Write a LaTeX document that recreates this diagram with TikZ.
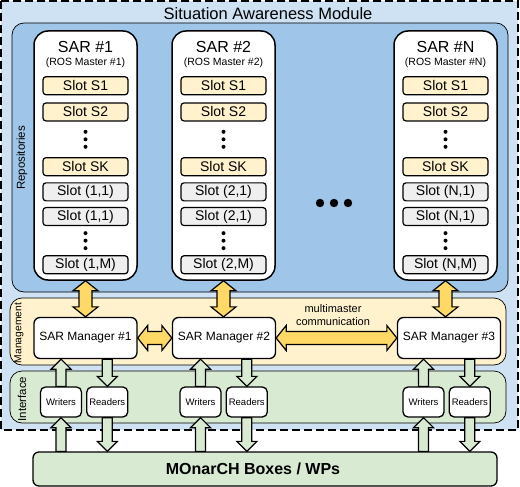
\documentclass[tikz,border=0pt]{standalone}
\usepackage{fontspec}
\setmainfont{Liberation Sans}
\usetikzlibrary{positioning,calc}

\definecolor{moduleblue}{HTML}{CFE2F3}
\definecolor{repoblue}{HTML}{9FC5E8}
\definecolor{mgmtyellow}{HTML}{FFF2CC}
\definecolor{ifacegreen}{HTML}{D9EAD3}
\definecolor{slotgray}{HTML}{EFEFEF}
\definecolor{arrowyellow}{HTML}{FFD966}

% fat double arrow between two points
\newcommand{\dblarrow}[3]{%
  \coordinate (ha) at ($(#2)!10pt!(#3)$);
  \coordinate (hb) at ($(#3)!10pt!(#2)$);
  \draw[#1] (#2) -- ($(ha)!12.5pt!90:(#2)$) -- ($(ha)!6.5pt!90:(#2)$)
    -- ($(hb)!6.5pt!-90:(#3)$) -- ($(hb)!12.5pt!-90:(#3)$) -- (#3)
    -- ($(hb)!12.5pt!90:(#3)$) -- ($(hb)!6.5pt!90:(#3)$)
    -- ($(ha)!6.5pt!-90:(#2)$) -- ($(ha)!12.5pt!-90:(#2)$) -- cycle;}
% fat single arrow, tail -> tip
\newcommand{\onearrow}[3]{%
  \coordinate (hb) at ($(#3)!10pt!(#2)$);
  \draw[#1] ($(#2)!5pt!-90:(#3)$) -- ($(hb)!5pt!-90:(#3)$) -- ($(hb)!10pt!-90:(#3)$)
    -- (#3) -- ($(hb)!10pt!90:(#3)$) -- ($(hb)!5pt!90:(#3)$)
    -- ($(#2)!5pt!90:(#3)$) -- cycle;}
% vertical dots between two slots
\newcommand{\slotdots}[2]{%
  \foreach \d in {-7.5,0,7.5} \fill ($(#1.south)!0.5!(#2.north)+(0,\d)$) circle (2pt);}

\begin{document}
\begin{tikzpicture}[x=1pt, y=-1pt,
  sar/.style={draw, line width=1.5pt, rounded corners=14pt, fill=white, minimum width=103pt, minimum height=249pt},
  slotS/.style={draw, line width=1.2pt, rounded corners=3pt, fill=mgmtyellow, minimum width=85pt, minimum height=18pt, inner sep=0pt, font=\fontsize{14}{16}\selectfont},
  slotG/.style={slotS, fill=slotgray},
  mgr/.style={draw, line width=1.3pt, rounded corners=6pt, fill=white, minimum width=103pt, minimum height=41pt, inner sep=1pt, font=\fontsize{12}{14}\selectfont},
  io/.style={draw, line width=1.3pt, rounded corners=5pt, fill=white, minimum width=41pt, minimum height=30pt, inner sep=0pt, font=\fontsize{9.5}{11}\selectfont},
  panel/.style={draw, line width=0.7pt, rounded corners=12pt},
  yarrow/.style={draw, line width=1.2pt, fill=arrowyellow, line join=miter},
  garrow/.style={draw, line width=1.2pt, fill=ifacegreen, line join=miter}]
  \useasboundingbox (0,0) rectangle (520,487);

  % module and its layers
  \draw[line width=1.8pt, dash pattern=on 8pt off 4pt, fill=moduleblue] (1,1) rectangle (518,430);
  \node[font=\fontsize{16.5}{18}\selectfont] (title) at (268,14) {Situation Awareness Module};
  \draw[panel, fill=repoblue] (12,23) rectangle (508,292);
  \draw[panel, fill=mgmtyellow] (10,298) rectangle (506,365);
  \draw[panel, fill=ifacegreen] (10,371) rectangle (506,423);
  \node[rotate=90, font=\fontsize{11.5}{13}\selectfont] (replab) at (22,158) {Repositories};
  \node[rotate=90, font=\fontsize{10.3}{12}\selectfont] (mgmtlab) at (19,333) {Management};
  \node[rotate=90, font=\fontsize{11.5}{13}\selectfont] (ifacelab) at (22,399) {Interface};

  % SAR #1
  \node[sar] (sar1) at (85.5,155.5) {};
  \node[font=\fontsize{16}{18}\selectfont] at ($(sar1.north)+(0,17)$) {SAR \#1};
  \node[font=\fontsize{10.5}{12}\selectfont] at ($(sar1.north)+(0,33)$) {(ROS Master \#1)};
  \node[slotS] (s1a) at ($(sar1.north)+(0,55.5)$) {Slot S1};
  \node[slotS, below=7pt of s1a] (s1b) {Slot S2};
  \node[slotS, below=35.5pt of s1b] (s1k) {Slot SK};
  \node[slotG, below=6pt of s1k] (g1a) {Slot (1,1)};
  \node[slotG, below=5.5pt of g1a] (g1b) {Slot (1,1)};
  \node[slotG, below=29pt of g1b] (g1m) {Slot (1,M)};
  \slotdots{s1b}{s1k}
  \slotdots{g1b}{g1m}

  % SAR #2
  \node[sar] (sar2) at (223.5,155.5) {};
  \node[font=\fontsize{16}{18}\selectfont] at ($(sar2.north)+(0,17)$) {SAR \#2};
  \node[font=\fontsize{10.5}{12}\selectfont] at ($(sar2.north)+(0,33)$) {(ROS Master \#2)};
  \node[slotS] (s2a) at ($(sar2.north)+(0,55.5)$) {Slot S1};
  \node[slotS, below=7pt of s2a] (s2b) {Slot S2};
  \node[slotS, below=35.5pt of s2b] (s2k) {Slot SK};
  \node[slotG, below=6pt of s2k] (g2a) {Slot (2,1)};
  \node[slotG, below=5.5pt of g2a] (g2b) {Slot (2,1)};
  \node[slotG, below=29pt of g2b] (g2m) {Slot (2,M)};
  \slotdots{s2b}{s2k}
  \slotdots{g2b}{g2m}

  % SAR #N
  \node[sar] (sar3) at (445.5,155.5) {};
  \node[font=\fontsize{16}{18}\selectfont] at ($(sar3.north)+(0,17)$) {SAR \#N};
  \node[font=\fontsize{10.5}{12}\selectfont] at ($(sar3.north)+(0,33)$) {(ROS Master \#N)};
  \node[slotS] (s3a) at ($(sar3.north)+(0,55.5)$) {Slot S1};
  \node[slotS, below=7pt of s3a] (s3b) {Slot S2};
  \node[slotS, below=35.5pt of s3b] (s3k) {Slot SK};
  \node[slotG, below=6pt of s3k] (g3a) {Slot (N,1)};
  \node[slotG, below=5.5pt of g3a] (g3b) {Slot (N,1)};
  \node[slotG, below=29pt of g3b] (g3m) {Slot (N,M)};
  \slotdots{s3b}{s3k}
  \slotdots{g3b}{g3m}

  \foreach \x in {320,334,348} \fill (\x,203) circle (4.2pt);

  % managers
  \node[mgr] (mgr1) at (85.5,338) {SAR Manager \#1};
  \node[mgr] (mgr2) at (224,338) {SAR Manager \#2};
  \node[mgr] (mgr3) at (449,338) {SAR Manager \#3};
  \node[align=center, font=\fontsize{11}{13}\selectfont] (mmlab) at (333,315.5) {multimaster\\communication};

  % writers / readers
  \node[io] (w1) at (61,402) {Writers};
  \node[io, right=4pt of w1] (r1) {Readers};
  \node[io] (w2) at (200.5,402) {Writers};
  \node[io, right=4pt of w2] (r2) {Readers};
  \node[io] (w3) at (423.5,402) {Writers};
  \node[io, right=4pt of w3] (r3) {Readers};

  \node[draw, line width=1.3pt, rounded corners=6pt, fill=ifacegreen, minimum width=464pt, minimum height=34pt,
    font=\bfseries\fontsize{16}{18}\selectfont] (boxes) at (265,469) {MOnarCH Boxes / WPs\hspace*{24pt}};

  % yellow arrows
  \dblarrow{yarrow}{sar1.south}{mgr1.north}
  \dblarrow{yarrow}{sar2.south}{sar2.south |- mgr2.north}
  \dblarrow{yarrow}{sar3.south}{sar3.south |- mgr3.north}
  \dblarrow{yarrow}{mgr1.east}{mgr2.west}
  \dblarrow{yarrow}{mgr2.east}{mgr3.west}

  % green arrows
  \onearrow{garrow}{w1.north}{w1.north |- mgr1.south}
  \onearrow{garrow}{r1.north |- mgr1.south}{r1.north}
  \onearrow{garrow}{w1.south |- boxes.north}{w1.south}
  \onearrow{garrow}{r1.south}{r1.south |- boxes.north}
  \onearrow{garrow}{w2.north}{w2.north |- mgr2.south}
  \onearrow{garrow}{r2.north |- mgr2.south}{r2.north}
  \onearrow{garrow}{w2.south |- boxes.north}{w2.south}
  \onearrow{garrow}{r2.south}{r2.south |- boxes.north}
  \onearrow{garrow}{w3.north}{w3.north |- mgr3.south}
  \onearrow{garrow}{r3.north |- mgr3.south}{r3.north}
  \onearrow{garrow}{w3.south |- boxes.north}{w3.south}
  \onearrow{garrow}{r3.south}{r3.south |- boxes.north}
\end{tikzpicture}
\end{document}
